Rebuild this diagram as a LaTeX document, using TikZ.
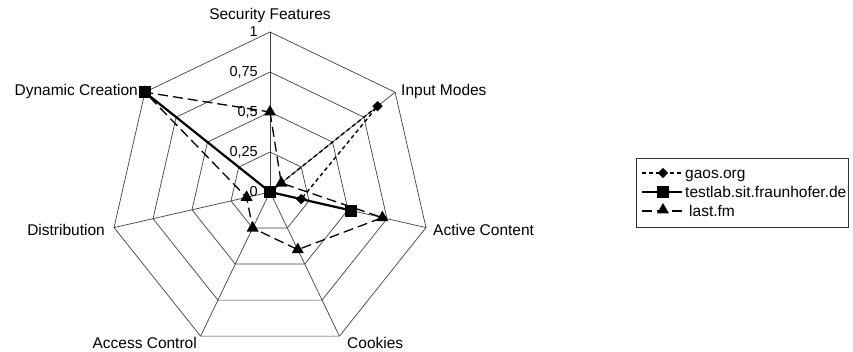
\documentclass[tikz,border=0pt]{standalone}
\usepackage{fontspec}
\setmainfont{Liberation Sans}
\usetikzlibrary{shapes.geometric}
\begin{document}
\begin{tikzpicture}[x=1pt,y=1pt,
  grid/.style={draw=black!75, line width=0.7pt},
  axislabel/.style={inner sep=0pt, font=\fontsize{15.5}{18}\selectfont},
  ticklabel/.style={inner sep=0pt, anchor=east, font=\fontsize{14.5}{17}\selectfont},
  legtext/.style={inner sep=0pt, anchor=base west, font=\fontsize{15.5}{18}\selectfont},
  gline/.style={line width=1.4pt, dash pattern=on 4pt off 3pt},
  tline/.style={line width=2.2pt},
  lline/.style={line width=1.3pt, dash pattern=on 10pt off 5pt},
  gmark/.style={diamond, fill=black, inner sep=0pt, minimum width=10.5pt, minimum height=10.5pt},
  tmark/.style={rectangle, fill=black, inner sep=0pt, minimum size=12pt},
  lmark/.style={regular polygon, regular polygon sides=3, fill=black, inner sep=0pt, minimum size=14pt},
]
\useasboundingbox (0,-352) rectangle (853,0);
\coordinate (C) at (270,-192);

\begin{scope}[shift={(270,-192)}]
  % rings at 0.25, 0.5, 0.75 and 1
  \foreach \r in {40,80,120,160}
    \draw[grid] (90:\r) -- (90-360/7:\r) -- (90-2*360/7:\r) -- (90-3*360/7:\r)
      -- (90-4*360/7:\r) -- (90-5*360/7:\r) -- (90-6*360/7:\r) -- cycle;
  % axis end points
  \foreach \k in {0,...,6}
    \coordinate (ax\k) at (90-\k*360/7:160);
  % data points
  \foreach \k/\v in {0/0,1/0.86,2/0.2,3/0,4/0,5/0,6/0}
    \coordinate (g\k) at (90-\k*360/7:{160*\v});
  \foreach \k/\v in {0/0,1/0,2/0.52,3/0,4/0,5/0,6/1}
    \coordinate (t\k) at (90-\k*360/7:{160*\v});
  \foreach \k/\v in {0/0.5,1/0.09,2/0.72,3/0.4,4/0.25,5/0.15,6/1}
    \coordinate (l\k) at (90-\k*360/7:{160*\v});
\end{scope}

% spokes
\foreach \k in {0,...,6}
  \draw[grid] (C) -- (ax\k);

% value scale
\node[ticklabel] (v100) at (258,-32) {1};
\node[ticklabel] (v075) at (258,-72) {0,75};
\node[ticklabel] (v050) at (258,-112) {0,5};
\node[ticklabel] (v025) at (258,-152) {0,25};
\node[ticklabel] (v000) at (258,-192) {0};

% axis names
\node[axislabel, anchor=base] (nSF) at (270,-19.5) {Security Features};
\node[axislabel, anchor=base west] (nIM) at (401,-95.5) {Input Modes};
\node[axislabel, anchor=base west] (nAC) at (433,-235.5) {Active Content};
\node[axislabel, anchor=base west] (nCo) at (347,-348.5) {Cookies};
\node[axislabel, anchor=base east] (nAcc) at (197,-348.5) {Access Control};
\node[axislabel, anchor=base east] (nDi) at (105,-235.5) {Distribution};
\node[axislabel, anchor=base east] (nDC) at (138,-95.5) {Dynamic Creation};

% gaos.org
\draw[gline] (g0) -- (g1) -- (g2) -- (g3) -- (g4) -- (g5) -- (g6) -- cycle;
\foreach \k in {0,...,6} \node[gmark] (gm\k) at (g\k) {};
% testlab.sit.fraunhofer.de
\draw[tline] (t0) -- (t1) -- (t2) -- (t3) -- (t4) -- (t5) -- (t6) -- cycle;
\foreach \k in {0,...,6} \node[tmark] (tm\k) at (t\k) {};
% last.fm
\draw[lline] (l0) -- (l1) -- (l2) -- (l3) -- (l4) -- (l5) -- (l6) -- cycle;
\foreach \k in {0,...,6} \node[lmark] (lm\k) at (l\k) {};

% legend
\node[draw=black!80, line width=0.7pt, minimum width=212pt, minimum height=69pt,
      anchor=north west, inner sep=0pt] (legend) at (636,-158) {};
\coordinate (ga) at (642,-173); \coordinate (gb) at (682,-173);
\coordinate (ta) at (642,-192); \coordinate (tb) at (682,-192);
\coordinate (la) at (642,-211); \coordinate (lb) at (684,-211);
\draw[gline] (ga) -- (gb);
\node[gmark] (kg) at (663,-173) {};
\node[legtext] (kgt) at (685,-178.5) {gaos.org};
\draw[tline] (ta) -- (tb);
\node[tmark] (kt) at (663,-192) {};
\node[legtext] (ktt) at (685,-197.5) {testlab.sit.fraunhofer.de};
\draw[lline] (la) -- (lb);
\node[lmark] (kl) at (663,-210) {};
\node[legtext] (klt) at (689,-216.5) {last.fm};
\end{tikzpicture}
\end{document}
